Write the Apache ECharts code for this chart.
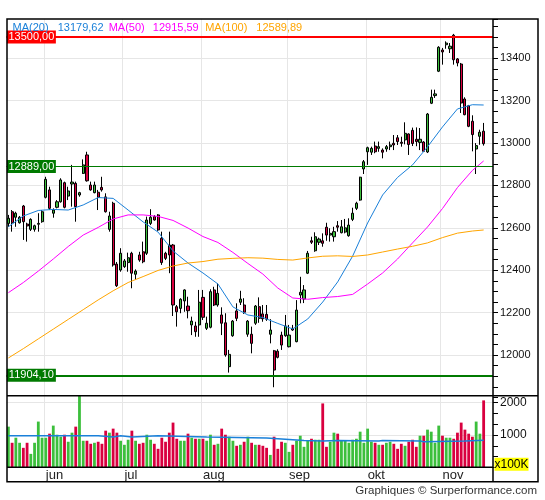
<!DOCTYPE html>
<html>
<head>
<meta charset="utf-8">
<script src="https://cdn.jsdelivr.net/npm/echarts@6/dist/echarts.min.js"></script>
<style>
html,body{margin:0;padding:0;background:#fff;}
#chart{width:545px;height:500px;}
</style>
</head>
<body>
<div id="chart"></div>
<script>
// ---- data ----
const categories = [
 '05-18','05-19','05-22','05-23','05-24','05-25','05-26','05-29','05-30','05-31',
 '06-01','06-02','06-06','06-07','06-08','06-09','06-12','06-13','06-14','06-15','06-16','06-19','06-20','06-21','06-22','06-23','06-26','06-27','06-28','06-29','06-30',
 '07-03','07-04','07-05','07-06','07-07','07-10','07-11','07-12','07-13','07-14','07-17','07-18','07-19','07-20','07-21','07-24','07-25','07-26','07-27','07-28','07-31',
 '08-01','08-02','08-03','08-04','08-07','08-08','08-09','08-10','08-11','08-14','08-15','08-16','08-17','08-18','08-21','08-22','08-23','08-24','08-25','08-28','08-29','08-30','08-31',
 '09-01','09-04','09-05','09-06','09-07','09-08','09-11','09-12','09-13','09-14','09-15','09-18','09-19','09-20','09-21','09-22','09-25','09-26','09-27','09-28','09-29',
 '10-02','10-04','10-05','10-06','10-09','10-10','10-11','10-12','10-13','10-16','10-17','10-18','10-19','10-20','10-23','10-24','10-25','10-26','10-27','10-30',
 '11-01','11-02','11-03','11-06','11-07','11-08','11-09','11-10','11-13','11-14','11-15','11-16',
 '11-17','11-20'
];
const monthNames = {'06':'jun','07':'jul','08':'aug','09':'sep','10':'okt','11':'nov'};

const opens = [12621,12676,12650,12624,12703,12618,12593,12593,12617,12629,
 12744,12779,12669,12697,12723,12813,12750,12807,12810,12755,
 12857,12944,12802,12766,12768,12791,12746,12593,12716,12429,
 12401,12417,12436,12480,12381,12472,12487,12480,12621,12653,
 12661,12551,12480,12519,12519,12228,12220,12255,12231,12142,
 12137,12142,12272,12126,12131,12307,12236,12189,12152,11945,
 12091,12208,12249,12236,12098,12098,12150,12228,12194,12192,
 12098,12020,12018,12094,12091,12039,12126,12063,12283,12264,
 12386,12539,12492,12532,12539,12603,12566,12558,12610,12577,
 12580,12563,12640,12692,12731,12878,12959,12957,12986,12975,
 12967,12972,12983,12999,13025,13004,13015,13043,13060,13018,
 13003,13005,12958,13188,13224,13339,13439,13464,13445,13509,
 13397,13373,13208,13176,13103,12972,13032,13056];
const highs = [12661,12684,12676,12656,12708,12624,12645,12615,12669,12684,
 12841,12794,12692,12731,12834,12818,12794,12897,12818,12770,
 12923,12959,12818,12818,12779,12841,12763,12676,12723,12439,
 12504,12453,12483,12487,12404,12487,12535,12653,12688,12660,
 12665,12582,12487,12582,12524,12236,12268,12310,12275,12181,
 12157,12307,12307,12181,12310,12322,12338,12225,12197,12024,
 12165,12244,12303,12268,12165,12134,12236,12272,12236,12236,
 12169,12024,12027,12110,12189,12142,12142,12259,12369,12330,
 12491,12558,12579,12554,12574,12624,12598,12605,12632,12637,
 12642,12645,12695,12723,12841,12920,12983,12983,13007,13007,
 12975,12991,13007,13038,13038,13030,13098,13046,13073,13074,
 13071,13009,13142,13252,13252,13457,13449,13480,13472,13515,
 13401,13378,13216,13180,13131,13000,13063,13095];
const lows = [12605,12582,12605,12620,12543,12535,12585,12582,12582,12624,
 12739,12684,12648,12692,12719,12692,12731,12700,12629,12747,
 12854,12818,12775,12763,12684,12771,12672,12582,12417,12321,
 12393,12411,12393,12315,12354,12440,12433,12472,12613,12634,
 12586,12425,12448,12386,12184,12134,12197,12204,12173,12094,
 12086,12086,12165,12118,12126,12231,12228,12094,11992,11917,
 12086,12160,12236,12194,12086,12008,12142,12152,12157,12161,
 12055,11848,11984,12024,12086,12036,12114,12060,12244,12245,
 12382,12524,12487,12519,12511,12539,12535,12535,12582,12574,
 12574,12558,12632,12684,12728,12854,12897,12944,12952,12959,
 12928,12959,12967,12967,12991,12983,12994,12944,12986,12985,
 12967,12958,12953,13184,13213,13335,13370,13445,13425,13370,
 13362,13142,13131,13075,12961,12854,12992,12988];
const closes = [12645,12624,12669,12650,12629,12609,12640,12610,12621,12676,
 12829,12692,12684,12723,12826,12697,12774,12816,12700,12766,
 12897,12822,12779,12802,12744,12779,12676,12656,12425,12327,
 12480,12444,12459,12386,12396,12448,12440,12637,12650,12637,
 12590,12436,12456,12472,12236,12204,12263,12307,12209,12160,
 12110,12249,12178,12150,12299,12236,12291,12150,12000,12003,
 12160,12173,12264,12202,12160,12055,12231,12173,12171,12169,
 12118,11929,11989,12047,12137,12094,12118,12212,12296,12307,
 12480,12532,12558,12547,12527,12566,12574,12582,12603,12605,
 12600,12613,12669,12716,12839,12912,12978,12975,12959,12983,
 12957,12983,12991,12991,13007,12999,13046,12993,12998,13007,
 13018,12961,13137,13216,13232,13452,13430,13472,13457,13393,
 13378,13189,13134,13079,13040,12988,13051,12997];
const volumes = [1259,759,916,759,603,759,416,759,1416,916,
 916,1041,1291,1009,947,1009,791,1072,1259,2260,
 822,822,728,759,791,728,1134,1072,1197,1072,
 822,697,853,1134,822,728,759,1009,853,728,
 572,916,791,1072,1384,884,822,822,1041,916,
 884,884,884,822,1009,697,728,1197,1009,947,
 822,666,697,791,947,759,697,697,666,603,
 384,947,572,791,759,478,697,822,978,634,
 822,884,853,853,1978,634,791,1072,1041,822,
 822,759,853,884,1103,759,1197,791,759,697,
 697,759,791,728,572,728,666,791,853,634,
 978,978,1166,1103,759,1291,978,916,916,884,
 1072,1384,1166,1041,947,1416,1041,2072];

// moving averages at these bar positions
const maIdx = [0,4,8,12,16,20,24,28,32,36,40,44,48,52,56,60,64,68,72,76,80,84,88,92,96,100,104,108,112,116,120,124,127];
const ma20 = [12605,12656,12682,12687,12684,12708,12743,12739,12684,12628,12580,12491,12434,12387,12335,12227,12189,12177,12149,12123,12170,12250,12345,12467,12623,12755,12838,12897,12982,13076,13161,13181,13179.62];
const ma50 = [12294,12342,12396,12453,12512,12566,12602,12642,12661,12661,12654,12635,12599,12559,12531,12484,12432,12382,12316,12269,12263,12271,12276,12286,12335,12387,12453,12529,12604,12691,12790,12871,12915.59];
const ma100 = [11986,12030,12076,12122,12168,12214,12260,12303,12342,12370,12399,12420,12434,12441,12452,12456,12459,12457,12451,12448,12458,12466,12468,12465,12472,12486,12500,12513,12529,12554,12575,12585,12589.89];
const maLast = [13179.62, 12915.59, 12589.89];
const maNames = ['MA(20)','MA(50)','MA(100)'];

const volMaIdx = [0,24,28,30,33,40,53,69,75,79,84,88,99,100,110,111,122,127];
const volMa = [978,937,978,937,978,937,906,862,831,812,831,812,831,812,791,812,840,840];

const levels = [13500, 12889, 11904.10];

// ---- styling ----
const UP = '#3cbf3c', DOWN = '#d9003f';
const MA_COLORS = ['#1a80d9', '#ff00ff', '#ffa500'];
const LEVEL_COLORS = ['#ff0000', '#007a00', '#007a00'];
const LEVEL_WIDTHS = [2, 1, 2];
const GRID = '#e6e6e6';
const FONT = 'Liberation Sans, Arial, sans-serif';

const fmt = v => v.toFixed(2).replace('.', ',');
const pair = (idx, arr) => idx.map((x, k) => [x, arr[k]]);
const monthKey = c => c.slice(0, 2);
const isMonthStart = i => i > 0 && i < categories.length && monthKey(categories[i]) !== monthKey(categories[i - 1]);

const candleData = opens.map((o, i) => [o, closes[i], lows[i], highs[i]]);
const volData = volumes.map((v, i) => ({ value: v, itemStyle: { color: closes[i] >= opens[i] ? UP : DOWN } }));

const chart = echarts.init(document.getElementById('chart'), null, { renderer: 'canvas' });

const xBase = (gi, showLabel) => ({
  type: 'category', gridIndex: gi, data: categories, boundaryGap: true,
  axisLine: { show: false }, axisTick: { show: false },
  axisLabel: showLabel ? {
    show: true, interval: (i) => isMonthStart(i), align: 'left', margin: 2,
    color: '#222', fontSize: 13, fontFamily: FONT,
    formatter: (v) => monthNames[monthKey(v)] || ''
  } : { show: false },
  splitLine: { show: true, interval: (i) => isMonthStart(i), lineStyle: { color: GRID, width: 1 } }
});

const PMIN = 11800, PMAX = 13585.4, VMAX = 2217;

const legendTexts = [];
const legendX = [12.5, 57.7, 108.7, 152.8, 205.2, 256.3];
for (let k = 0; k < 3; k++) {
  legendTexts.push({ type: 'text', x: legendX[2 * k], y: 28, z: 20,
    style: { text: maNames[k], fill: MA_COLORS[k], font: '11px ' + FONT, verticalAlign: 'middle' } });
  legendTexts.push({ type: 'text', x: legendX[2 * k + 1], y: 28, z: 20,
    style: { text: fmt(maLast[k]), fill: MA_COLORS[k], font: '11px ' + FONT, verticalAlign: 'middle' } });
}

const frame = [
  { type: 'rect', z: 30, shape: { x: 7, y: 19, width: 531, height: 462.7 }, style: { fill: 'none', stroke: '#000', lineWidth: 1.5 } },
  { type: 'line', z: 30, shape: { x1: 493, y1: 19, x2: 493, y2: 481.7 }, style: { stroke: '#000', lineWidth: 1.5 } },
  { type: 'line', z: 30, shape: { x1: 7, y1: 395.7, x2: 538, y2: 395.7 }, style: { stroke: '#000', lineWidth: 1.5 } },
  { type: 'line', z: 30, shape: { x1: 7, y1: 467.3, x2: 493, y2: 467.3 }, style: { stroke: '#000', lineWidth: 1.5 } },
  { type: 'text', z: 31, x: 494.5, y: 457.8,
    style: { text: 'x100K', fill: '#000', font: '12px ' + FONT, backgroundColor: '#ffff00', padding: [1, 0, 0, 0] } },
  { type: 'text', z: 31, x: 537, y: 491,
    style: { text: 'Graphiques © Surperformance.com', fill: '#333', font: '11.5px ' + FONT, align: 'right', verticalAlign: 'middle' } }
];

const option = {
  animation: false,
  backgroundColor: '#ffffff',
  grid: [
    { left: 6.5, top: 19, width: 486.5, height: 378.4 },
    { left: 6.5, top: 395.7, width: 486.5, height: 71.6 }
  ],
  xAxis: [xBase(0, false), xBase(1, true)],
  yAxis: [
    { type: 'value', gridIndex: 0, position: 'right', min: PMIN, max: PMAX, interval: 50,
      axisLine: { show: false },
      axisTick: { show: true, length: 5, lineStyle: { color: '#000' } },
      axisLabel: { show: true, margin: 7, color: '#111', fontSize: 11, fontFamily: FONT,
        formatter: (v) => { const r = Math.round(v); return (r % 200 === 0 && r >= 12000 && r <= 13400) ? String(r) : ''; } },
      splitLine: { show: false } },
    { type: 'value', gridIndex: 0, position: 'right', offset: 0, min: PMIN, max: PMAX, interval: 200,
      axisLine: { show: false }, axisTick: { show: false }, axisLabel: { show: false },
      splitLine: { show: true, showMinLine: false, showMaxLine: false, lineStyle: { color: GRID, width: 1 } } },
    { type: 'value', gridIndex: 1, position: 'right', min: 0, max: VMAX, interval: 1000 / 3,
      axisLine: { show: false },
      axisTick: { show: true, length: 5, lineStyle: { color: '#000' } },
      axisLabel: { show: true, margin: 7, color: '#111', fontSize: 12, fontFamily: FONT,
        formatter: (v) => { const r = Math.round(v); return (r > 0 && r % 1000 === 0) ? String(r) : ''; } },
      splitLine: { show: false } },
    { type: 'value', gridIndex: 1, position: 'right', offset: 0, min: 0, max: VMAX, interval: 1000,
      axisLine: { show: false }, axisTick: { show: false }, axisLabel: { show: false },
      splitLine: { show: true, showMinLine: false, showMaxLine: false, lineStyle: { color: GRID, width: 1 } } }
  ],
  graphic: legendTexts.concat(frame),
  series: [
    { type: 'candlestick', name: 'price', xAxisIndex: 0, yAxisIndex: 0, data: candleData, barWidth: 2.6,
      itemStyle: { color: UP, color0: DOWN, borderColor: '#000', borderColor0: '#000', borderWidth: 1 },
      markLine: { silent: true, symbol: ['none', 'none'], label: { show: false },
        data: levels.map((v, k) => ({ yAxis: v, lineStyle: { color: LEVEL_COLORS[k], width: LEVEL_WIDTHS[k], type: 'solid' } })) },
      markPoint: { silent: true, symbol: 'rect', symbolSize: [49, 13], symbolOffset: [23, 0],
        label: { show: true, position: 'inside', color: '#fff', fontSize: 11, fontFamily: FONT, formatter: (p) => fmt(p.value) },
        data: levels.map((v, k) => ({ coord: [0, v], value: v, itemStyle: { color: LEVEL_COLORS[k] } })) }
    },
    { type: 'line', name: 'MA20', xAxisIndex: 0, yAxisIndex: 0, data: pair(maIdx, ma20), showSymbol: false, symbol: 'none',
      lineStyle: { color: MA_COLORS[0], width: 1 }, z: 3 },
    { type: 'line', name: 'MA50', xAxisIndex: 0, yAxisIndex: 0, data: pair(maIdx, ma50), showSymbol: false, symbol: 'none',
      lineStyle: { color: MA_COLORS[1], width: 1 }, z: 3 },
    { type: 'line', name: 'MA100', xAxisIndex: 0, yAxisIndex: 0, data: pair(maIdx, ma100), showSymbol: false, symbol: 'none',
      lineStyle: { color: MA_COLORS[2], width: 1 }, z: 3 },
    { type: 'bar', name: 'volume', xAxisIndex: 1, yAxisIndex: 2, data: volData, barWidth: '75%' },
    { type: 'line', name: 'volMA', xAxisIndex: 1, yAxisIndex: 2, data: pair(volMaIdx, volMa), step: 'end',
      showSymbol: false, symbol: 'none', lineStyle: { color: MA_COLORS[0], width: 1.5 }, z: 4 }
  ]
};
chart.setOption(option);
</script>
</body>
</html>
